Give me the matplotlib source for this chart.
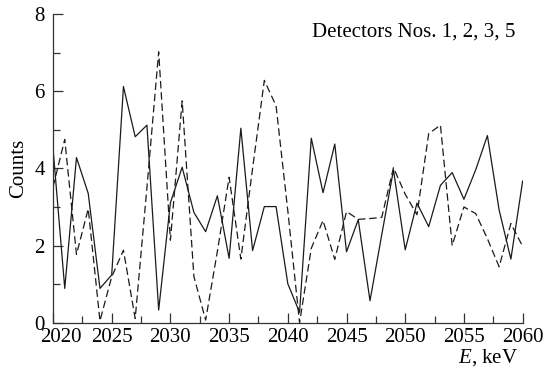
import numpy as np
import matplotlib
matplotlib.use("Agg")
import matplotlib.pyplot as plt
from matplotlib.ticker import MultipleLocator
from matplotlib.transforms import ScaledTranslation

# Energy grid, keV
energy = np.arange(2020, 2061)

# Solid curve
counts_solid = [4.52, 0.89, 4.28, 3.35, 0.89, 1.24, 6.12, 4.82, 5.12, 0.33,
                3.11, 4.03, 2.86, 2.36, 3.29, 1.67, 5.04, 1.87, 3.01, 3.01,
                1.01, 0.27, 4.78, 3.37, 4.63, 1.84, 2.67, 0.57, 2.28, 3.96,
                1.89, 3.10, 2.49, 3.56, 3.89, 3.20, 3.96, 4.85, 2.92, 1.65,
                3.67]

# Dashed curve
counts_dashed = [3.52, 4.75, 1.77, 2.95, 0.05, 1.19, 1.88, 0.11, 3.50, 7.02,
                 2.14, 5.75, 1.20, 0.07, 1.85, 3.77, 1.65, 4.00, 6.28, 5.62,
                 2.90, 0.00, 1.93, 2.65, 1.64, 2.88, 2.68, 2.70, 2.73, 4.02,
                 3.33, 2.80, 4.90, 5.12, 2.00, 3.00, 2.83, 2.18, 1.45, 2.57,
                 1.98]

plt.rcParams['font.family'] = ['Liberation Serif', 'DejaVu Serif']
plt.rcParams['mathtext.fontset'] = 'custom'
plt.rcParams['mathtext.rm'] = 'Liberation Serif'
plt.rcParams['mathtext.it'] = 'Liberation Serif:italic'

fig = plt.figure(figsize=(5.51, 3.74), dpi=100)
ax = fig.add_axes([0.0962, 0.137, 0.8523, 0.8256])

ax.plot(energy, counts_solid, color='#1a1a1a', lw=0.9, ls='-')
ax.plot(energy, counts_dashed, color='#1a1a1a', lw=0.9, ls=(0, (6, 3)))

ax.set_xlim(2020, 2060)
ax.set_ylim(0, 8)
ax.xaxis.set_major_locator(MultipleLocator(5))
ax.xaxis.set_minor_locator(MultipleLocator(2.5))
ax.yaxis.set_major_locator(MultipleLocator(2))
ax.yaxis.set_minor_locator(MultipleLocator(1))

for side in ('top', 'right'):
    ax.spines[side].set_visible(False)
for side in ('left', 'bottom'):
    ax.spines[side].set_linewidth(0.9)
    ax.spines[side].set_color('#333333')

ax.tick_params(which='both', direction='in', color='#333333', width=0.9,
               labelsize=15)
ax.tick_params(which='major', length=7)
ax.tick_params(which='minor', length=5)
ax.tick_params(axis='x', pad=4)
ax.tick_params(axis='y', pad=6)

# nudge the 2020 label right so it clears the "0"
fig.canvas.draw()
for tick in ax.xaxis.get_major_ticks():
    if abs(tick.get_loc() - 2020) < 1e-6:
        lab = tick.label1
        lab.set_transform(lab.get_transform() + ScaledTranslation(6 / 72, 0, fig.dpi_scale_trans))

ax.set_ylabel('Counts', fontsize=15, labelpad=4)
fig.text(0.94, 0.045, '$E$, keV', fontsize=15, ha='right', va='center')
fig.text(0.935, 0.914, 'Detectors Nos. 1, 2, 3, 5', fontsize=15,
         ha='right', va='center')

fig.savefig('out.png', dpi=100)
